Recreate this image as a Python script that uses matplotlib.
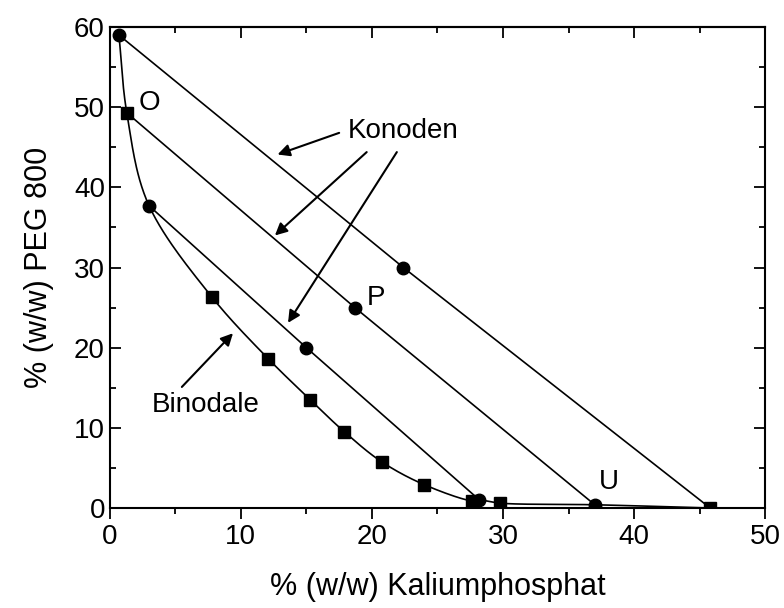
import matplotlib.pyplot as plt
import numpy as np

plt.rcParams['font.family'] = ['Liberation Sans', 'DejaVu Sans']

# binodal curve points (% w/w salt, % w/w PEG), measured by titration
bin_x = [0.7, 1.3, 3.0, 7.8, 12.1, 15.3, 17.9, 20.8, 24.0, 27.6, 28.2, 29.8, 37.0, 45.8]
bin_y = [59.0, 49.3, 37.7, 26.3, 18.6, 13.5, 9.5, 5.7, 2.9, 0.9, 1.0, 0.6, 0.4, 0.0]

# measured binodal points shown as squares
sq_x = [1.3, 7.8, 12.1, 15.3, 17.9, 20.8, 24.0, 27.6, 29.8, 45.8]
sq_y = [49.3, 26.3, 18.6, 13.5, 9.5, 5.7, 2.9, 0.9, 0.6, 0.0]

# tie lines: top phase, feed mixture, bottom phase
tie_top_x = [0.7, 1.3, 3.0]
tie_top_y = [59.0, 49.3, 37.7]
tie_mid_x = [22.4, 18.7, 15.0]
tie_mid_y = [30.0, 25.0, 20.0]
tie_bot_x = [45.8, 37.0, 28.2]
tie_bot_y = [0.0, 0.4, 1.0]


def catmull_rom(xs, ys, n=30, alpha=0.5):
    # centripetal Catmull-Rom through all points
    p = np.column_stack([xs, ys]).astype(float)
    p = np.vstack([2 * p[0] - p[1], p, 2 * p[-1] - p[-2]])
    out = []
    for i in range(1, len(p) - 2):
        p0, p1, p2, p3 = p[i - 1], p[i], p[i + 1], p[i + 2]
        t0 = 0.0
        t1 = t0 + np.linalg.norm(p1 - p0) ** alpha
        t2 = t1 + np.linalg.norm(p2 - p1) ** alpha
        t3 = t2 + np.linalg.norm(p3 - p2) ** alpha
        t = np.linspace(t1, t2, n)[:, None]
        a1 = (t1 - t) / (t1 - t0) * p0 + (t - t0) / (t1 - t0) * p1
        a2 = (t2 - t) / (t2 - t1) * p1 + (t - t1) / (t2 - t1) * p2
        a3 = (t3 - t) / (t3 - t2) * p2 + (t - t2) / (t3 - t2) * p3
        b1 = (t2 - t) / (t2 - t0) * a1 + (t - t0) / (t2 - t0) * a2
        b2 = (t3 - t) / (t3 - t1) * a2 + (t - t1) / (t3 - t1) * a3
        c = (t2 - t) / (t2 - t1) * b1 + (t - t1) / (t2 - t1) * b2
        out.append(c)
    return np.vstack(out)


fig = plt.figure(figsize=(7.84, 6.08), dpi=100)
ax = fig.add_axes([0.140, 0.1645, 0.836, 0.791])

curve = catmull_rom(bin_x, bin_y)
ax.plot(curve[:, 0], curve[:, 1], color='black', lw=1.2, zorder=2)

for i in range(len(tie_top_x)):
    ax.plot([tie_top_x[i], tie_mid_x[i], tie_bot_x[i]],
            [tie_top_y[i], tie_mid_y[i], tie_bot_y[i]],
            color='black', lw=1.2, zorder=2)

ax.plot(sq_x, sq_y, 's', color='black', ms=8, zorder=3)
circ_x = [tie_top_x[0], tie_top_x[2]] + tie_mid_x + tie_bot_x[1:]
circ_y = [tie_top_y[0], tie_top_y[2]] + tie_mid_y + tie_bot_y[1:]
ax.plot(circ_x, circ_y, 'o', color='black', ms=9, zorder=3)

ax.text(2.2, 50.5, 'O', fontsize=20, va='center', ha='left')
ax.text(19.6, 26.2, 'P', fontsize=20, va='center', ha='left')
ax.text(37.3, 3.3, 'U', fontsize=20, va='center', ha='left')

ax.text(22.4, 47.0, 'Konoden', fontsize=20, ha='center', va='center')
arw = dict(arrowstyle='-|>', color='black', lw=1.5, mutation_scale=18,
           shrinkA=0, shrinkB=0)
ax.annotate('', xy=(12.8, 44.1), xytext=(17.5, 46.8), arrowprops=arw)
ax.annotate('', xy=(12.6, 34.0), xytext=(19.6, 44.4), arrowprops=arw)
ax.annotate('', xy=(13.6, 23.1), xytext=(21.9, 44.4), arrowprops=arw)

ax.text(7.3, 12.8, 'Binodale', fontsize=20, ha='center', va='center')
ax.annotate('', xy=(9.4, 21.8), xytext=(5.5, 15.1), arrowprops=arw)

ax.set_xlim(0, 50)
ax.set_ylim(0, 60)
ax.set_xticks(np.arange(0, 51, 10))
ax.set_xticks(np.arange(0, 51, 5), minor=True)
ax.set_yticks(np.arange(0, 61, 10))
ax.set_yticks(np.arange(0, 61, 5), minor=True)

# bottom ticks point outward, left/top/right ticks point inward
ax.tick_params(which='both', right=True, labelsize=20, width=1.3)
ax.tick_params(axis='y', which='both', direction='in')
ax.tick_params(axis='x', which='both', direction='out')
ax.tick_params(which='major', length=8)
ax.tick_params(which='minor', length=4.5)

top = ax.secondary_xaxis('top')
top.set_xticks(np.arange(0, 51, 10))
top.set_xticks(np.arange(0, 51, 5), minor=True)
top.tick_params(which='both', direction='in', labeltop=False, width=1.3)
top.tick_params(which='major', length=8)
top.tick_params(which='minor', length=4.5)
top.spines['top'].set_linewidth(1.5)

for side in ax.spines.values():
    side.set_linewidth(1.5)

ax.set_xlabel('% (w/w) Kaliumphosphat', fontsize=22, labelpad=16)
ax.set_ylabel('% (w/w) PEG 800', fontsize=22, labelpad=14)

fig.savefig('out.png', dpi=100)
